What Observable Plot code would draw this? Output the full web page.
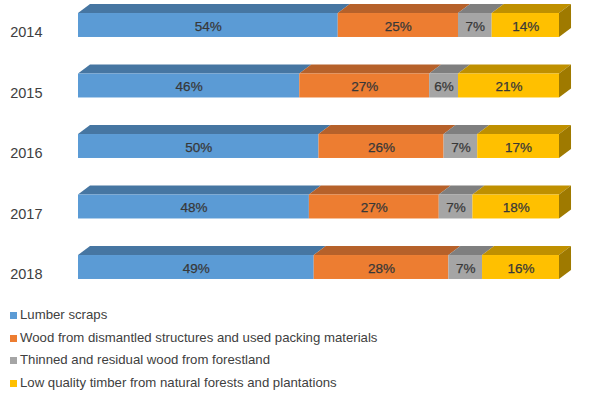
<!DOCTYPE html>
<html>
<head>
<meta charset="utf-8">
<script src="https://cdn.jsdelivr.net/npm/d3@7"></script>
<script src="https://cdn.jsdelivr.net/npm/@observablehq/plot@0.6"></script>
<style>
  html, body { margin: 0; padding: 0; background: #fff; }
  #wrap { position: relative; width: 592px; height: 397px; font-family: "Liberation Sans", Arial, sans-serif; }
  #legend { position: absolute; left: 10px; top: 304px; font-size: 13.2px; color: #404040; }
  .row { height: 22.7px; line-height: 22.7px; display: flex; align-items: center; white-space: nowrap; }
  .sw { width: 7px; height: 7px; margin-right: 3px; display: inline-block; }
</style>
</head>
<body>
<div id="wrap"><div id="chart"></div><div id="legend"></div></div>
<script>
const years = ["2014", "2015", "2016", "2017", "2018"];
const categories = [
  "Lumber scraps",
  "Wood from dismantled structures and used packing materials",
  "Thinned and residual wood from forestland",
  "Low quality timber from natural forests and plantations"
];
const lumberScraps = [54, 46, 50, 48, 49];
const dismantled = [25, 27, 26, 27, 28];
const thinned = [7, 6, 7, 7, 7];
const lowQuality = [14, 21, 17, 18, 16];

const frontColors = ["#5B9BD5", "#ED7D31", "#A5A5A5", "#FFC000"];
const topColors = ["#4676A2", "#B6612A", "#7F7F7F", "#BF9000"];
const sideColor = "#9F7A00";

const series = [lumberScraps, dismantled, thinned, lowQuality];

// 3D geometry (in scale units)
const half = 0.198;   // half front-face height, row units
const depthY = 0.149; // row units
const depthX = 2.5;   // percent units

const segments = [];
years.forEach((yr, i) => {
  let acc = 0;
  series.forEach((s, k) => {
    segments.push({row: i, year: yr, k, a: acc, b: acc + s[i], v: s[i]});
    acc += s[i];
  });
});

const topPts = [];
segments.forEach((d, j) => {
  topPts.push({id: j, k: d.k, y: d.row - half, x1: d.a, x2: d.b});
  topPts.push({id: j, k: d.k, y: d.row - half - depthY, x1: d.a + depthX, x2: d.b + depthX});
});

const sidePts = [];
years.forEach((yr, i) => {
  const total = series.reduce((s, arr) => s + arr[i], 0);
  sidePts.push({id: i, x: total, y1: i - half, y2: i + half});
  sidePts.push({id: i, x: total + depthX, y1: i - half - depthY, y2: i + half - depthY});
});

const chart = Plot.plot({
  width: 592,
  height: 300,
  marginLeft: 78,
  marginRight: 33,
  marginTop: 0,
  marginBottom: 0,
  x: {domain: [0, 100], axis: null},
  y: {domain: [0, 4], range: [25, 267], axis: null},
  style: {fontFamily: "'Liberation Sans', Arial, sans-serif", color: "#404040", background: "white"},
  marks: [
    Plot.areaX(topPts, {y: "y", x1: "x1", x2: "x2", z: "id", fill: d => topColors[d.k], curve: "linear"}),
    Plot.areaY(sidePts, {x: "x", y1: "y1", y2: "y2", z: "id", fill: sideColor, curve: "linear"}),
    Plot.rect(segments, {x1: "a", x2: "b", y1: d => d.row - half, y2: d => d.row + half, fill: d => frontColors[d.k]}),
    Plot.text(segments, {x: d => (d.a + d.b) / 2, y: "row", text: d => d.v + "%", fontSize: 13.5, fill: "#383838", stroke: "#383838", strokeWidth: 0.25, dy: 1}),
    Plot.axisY({ticks: [0, 1, 2, 3, 4], tickFormat: i => years[i], tickSize: 0, tickPadding: 36, fontSize: 14.5, dy: 7, anchor: "left"})
  ]
});
document.getElementById("chart").appendChild(chart);

const legend = document.getElementById("legend");
categories.forEach((c, k) => {
  const row = document.createElement("div");
  row.className = "row";
  const sw = document.createElement("span");
  sw.className = "sw";
  sw.style.background = frontColors[k];
  row.appendChild(sw);
  const t = document.createElement("span");
  t.textContent = c;
  row.appendChild(t);
  legend.appendChild(row);
});
</script>
</body>
</html>
